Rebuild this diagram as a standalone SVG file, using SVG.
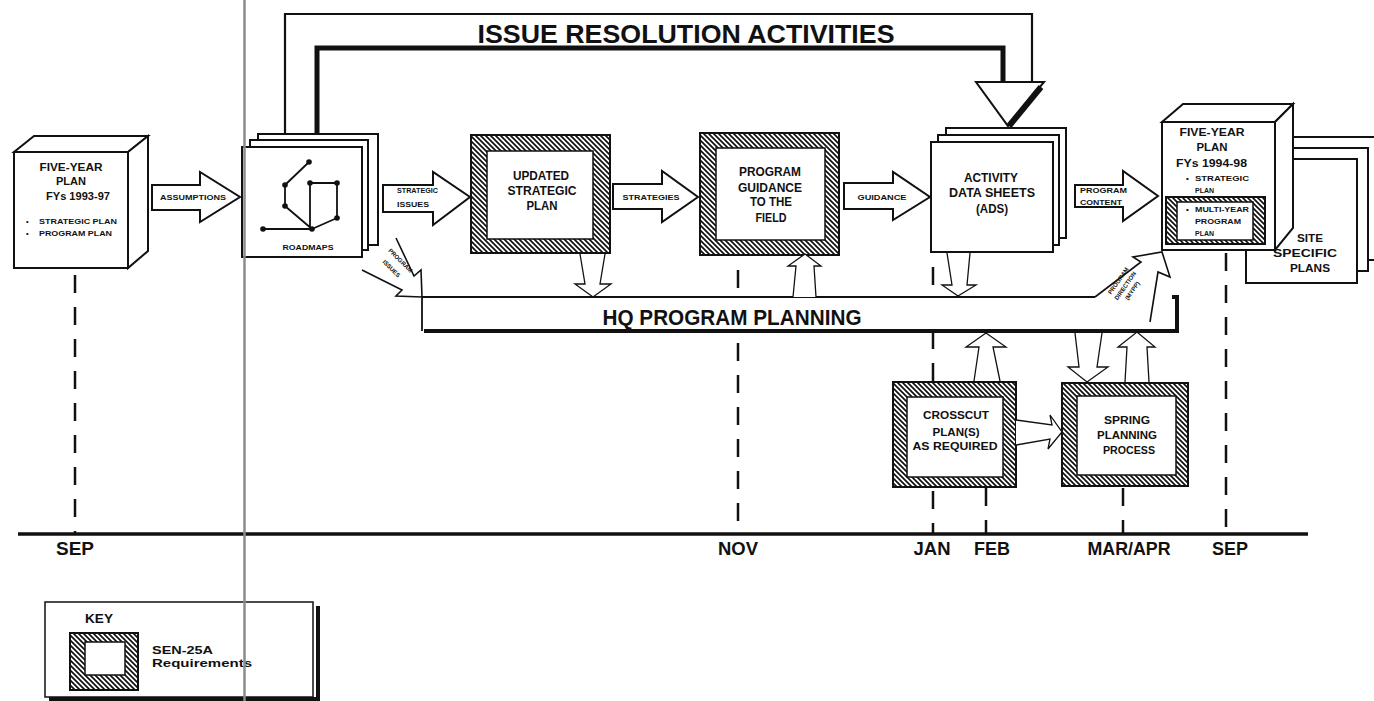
<svg xmlns="http://www.w3.org/2000/svg" width="1374" height="701" viewBox="0 0 1374 701">
<defs>
<pattern id="hatch" patternUnits="userSpaceOnUse" width="5" height="5">
<rect width="5" height="5" fill="#fff"/>
<path d="M-1,-1 L6,6 M-1,4 L1,6 M4,-1 L6,1" stroke="#111" stroke-width="1.7"/>
</pattern>
<style>
.t{font-family:"Liberation Sans",Arial,sans-serif;font-weight:bold;fill:#111}
.m{text-anchor:middle}
.box{fill:#fff;stroke:#111;stroke-width:2}
.hb{fill:url(#hatch);stroke:#111;stroke-width:2}
.in{fill:#fff;stroke:#111;stroke-width:1.5}
.arw{fill:#fff;stroke:#111;stroke-width:2;stroke-linejoin:miter}
.thin{fill:#fff;stroke:#111;stroke-width:1.3;stroke-linejoin:miter}
.ln{fill:none;stroke:#111}
.dash{fill:none;stroke:#111;stroke-width:2.5;stroke-dasharray:18 14}
</style>
</defs>
<rect width="1374" height="701" fill="#fff"/>

<!-- timeline -->
<g id="timeline">
<line class="dash" x1="75" y1="275" x2="75" y2="534"/>
<line class="dash" x1="738" y1="270" x2="738" y2="288"/>
<line class="dash" x1="738" y1="343" x2="738" y2="534"/>
<line class="dash" x1="933" y1="267" x2="933" y2="534"/>
<line class="dash" x1="986" y1="488" x2="986" y2="534"/>
<line class="dash" x1="1123" y1="488" x2="1123" y2="534"/>
<line class="dash" x1="1226" y1="253" x2="1226" y2="534"/>
<line x1="18" y1="534" x2="1308" y2="534" stroke="#111" stroke-width="3.5"/>
<text class="t m" x="75" y="555" font-size="17.5" textLength="38" lengthAdjust="spacingAndGlyphs">SEP</text>
<text class="t m" x="738" y="555" font-size="17.5" textLength="40" lengthAdjust="spacingAndGlyphs">NOV</text>
<text class="t m" x="932" y="555" font-size="17.5" textLength="37" lengthAdjust="spacingAndGlyphs">JAN</text>
<text class="t m" x="992" y="555" font-size="17.5" textLength="36" lengthAdjust="spacingAndGlyphs">FEB</text>
<text class="t m" x="1129" y="555" font-size="17.5" textLength="83" lengthAdjust="spacingAndGlyphs">MAR/APR</text>
<text class="t m" x="1230" y="555" font-size="17.5" textLength="36" lengthAdjust="spacingAndGlyphs">SEP</text>
</g>

<!-- HQ program planning bar -->
<g id="hq">
<rect x="423" y="298" width="753" height="32" fill="#fff"/>
<path class="ln" stroke-width="1.8" d="M1095,297 H422 V331"/>
<path class="ln" stroke-width="4" d="M424,331 H1179 M1177,333 V297 H1172"/>
<text class="t m" x="732" y="325" font-size="22" textLength="259" lengthAdjust="spacingAndGlyphs">HQ PROGRAM PLANNING</text>
</g>

<!-- five-year plan 1993-97 -->
<g id="fyp1">
<polygon class="box" points="14,152 34,136 148,136 128,152"/>
<polygon class="box" points="128,152 148,136 148,251 128,268"/>
<rect class="box" x="14" y="152" width="114" height="116"/>
<text class="t m" x="71" y="171" font-size="11" textLength="63" lengthAdjust="spacingAndGlyphs">FIVE-YEAR</text>
<text class="t m" x="71" y="185" font-size="11" textLength="30" lengthAdjust="spacingAndGlyphs">PLAN</text>
<text class="t m" x="78" y="200" font-size="11" textLength="64" lengthAdjust="spacingAndGlyphs">FYs 1993-97</text>
<text class="t" x="26" y="223.5" font-size="7.5">•</text>
<text class="t" x="39" y="223.5" font-size="7.5" textLength="78" lengthAdjust="spacingAndGlyphs">STRATEGIC PLAN</text>
<text class="t" x="26" y="236" font-size="7.5">•</text>
<text class="t" x="39" y="236" font-size="7.5" textLength="73" lengthAdjust="spacingAndGlyphs">PROGRAM PLAN</text>
</g>

<!-- roadmaps -->
<g id="roadmaps">
<rect class="box" x="258" y="134" width="120" height="111"/>
<rect class="box" x="250" y="140" width="118" height="110"/>
<rect class="box" x="242" y="147" width="120" height="110"/>
<g stroke="#111" stroke-width="1.8" fill="none">
<path d="M309,162 L285,185 L285,206 L312,229 M263,229 H312 M310,183 V229 M310,183 H337 V218 L312,229"/>
</g>
<g fill="#111">
<circle cx="309" cy="162" r="2.8"/><circle cx="285" cy="185" r="2.8"/><circle cx="310" cy="183" r="2.8"/>
<circle cx="337" cy="183" r="2.8"/><circle cx="285" cy="206" r="2.8"/><circle cx="337" cy="218" r="2.8"/>
<circle cx="312" cy="229" r="2.8"/><circle cx="263" cy="229" r="2.8"/>
</g>
<text class="t m" x="308" y="249.5" font-size="7.5" textLength="51" lengthAdjust="spacingAndGlyphs">ROADMAPS</text>
</g>

<!-- updated strategic plan -->
<g id="usp">
<rect class="hb" x="471" y="135" width="139" height="118"/>
<rect class="in" x="487" y="151" width="106" height="88"/>
<text class="t m" x="541" y="180" font-size="12" textLength="56" lengthAdjust="spacingAndGlyphs">UPDATED</text>
<text class="t m" x="542" y="195" font-size="12" textLength="69" lengthAdjust="spacingAndGlyphs">STRATEGIC</text>
<text class="t m" x="542" y="210" font-size="12" textLength="31" lengthAdjust="spacingAndGlyphs">PLAN</text>
</g>

<!-- program guidance -->
<g id="pgf">
<rect class="hb" x="700" y="133" width="139" height="122"/>
<rect class="in" x="716" y="148" width="109" height="92"/>
<text class="t m" x="770" y="176" font-size="12" textLength="62" lengthAdjust="spacingAndGlyphs">PROGRAM</text>
<text class="t m" x="770" y="191.5" font-size="12" textLength="64" lengthAdjust="spacingAndGlyphs">GUIDANCE</text>
<text class="t m" x="771" y="206" font-size="12" textLength="42" lengthAdjust="spacingAndGlyphs">TO THE</text>
<text class="t m" x="771" y="221.5" font-size="12" textLength="31" lengthAdjust="spacingAndGlyphs">FIELD</text>
</g>

<!-- activity data sheets -->
<g id="ads">
<rect class="box" x="946" y="128" width="120" height="110"/>
<rect class="box" x="938" y="135" width="121" height="110"/>
<rect class="box" x="931" y="142" width="122" height="110"/>
<text class="t m" x="991" y="181.5" font-size="12" textLength="54" lengthAdjust="spacingAndGlyphs">ACTIVITY</text>
<text class="t m" x="992" y="196.5" font-size="12" textLength="86" lengthAdjust="spacingAndGlyphs">DATA SHEETS</text>
<text class="t m" x="992" y="212.5" font-size="12" textLength="32" lengthAdjust="spacingAndGlyphs">(ADS)</text>
</g>

<!-- site specific plans -->
<g id="ssp">
<rect class="box" x="1268" y="137" width="112" height="123"/>
<rect class="box" x="1257" y="148" width="111" height="123"/>
<rect class="box" x="1246" y="159" width="111" height="124"/>
<text class="t m" x="1310" y="242" font-size="11" textLength="26" lengthAdjust="spacingAndGlyphs">SITE</text>
<text class="t m" x="1305" y="257" font-size="11" textLength="64" lengthAdjust="spacingAndGlyphs">SPECIFIC</text>
<text class="t m" x="1310" y="272" font-size="11" textLength="40" lengthAdjust="spacingAndGlyphs">PLANS</text>
</g>

<!-- five-year plan 1994-98 -->
<g id="fyp2">
<polygon class="box" points="1162,122 1183,104 1293,104 1275,122"/>
<polygon class="box" points="1275,122 1293,104 1293,228 1275,250"/>
<rect class="box" x="1162" y="122" width="113" height="128"/>
<text class="t m" x="1212" y="136" font-size="11.5" textLength="65" lengthAdjust="spacingAndGlyphs">FIVE-YEAR</text>
<text class="t m" x="1212" y="150.5" font-size="11.5" textLength="31" lengthAdjust="spacingAndGlyphs">PLAN</text>
<text class="t m" x="1211.5" y="167" font-size="11.5" textLength="71" lengthAdjust="spacingAndGlyphs">FYs 1994-98</text>
<text class="t" x="1186" y="180.5" font-size="8">•</text>
<text class="t" x="1195" y="180.5" font-size="8" textLength="54" lengthAdjust="spacingAndGlyphs">STRATEGIC</text>
<text class="t" x="1195" y="192.5" font-size="8" textLength="19" lengthAdjust="spacingAndGlyphs">PLAN</text>
<rect class="hb" x="1166" y="197" width="99" height="47" stroke-width="1.5"/>
<rect class="in" x="1177" y="202" width="76" height="38" stroke-width="1"/>
<text class="t" x="1186" y="212" font-size="8">•</text>
<text class="t" x="1195" y="212" font-size="8" textLength="54" lengthAdjust="spacingAndGlyphs">MULTI-YEAR</text>
<text class="t" x="1195" y="224" font-size="8" textLength="46" lengthAdjust="spacingAndGlyphs">PROGRAM</text>
<text class="t" x="1195" y="236" font-size="8" textLength="19" lengthAdjust="spacingAndGlyphs">PLAN</text>
</g>

<!-- crosscut -->
<g id="crosscut">
<rect class="hb" x="893" y="382" width="123" height="105"/>
<rect class="in" x="907" y="397" width="96" height="80"/>
<text class="t m" x="956" y="419" font-size="10.5" textLength="66" lengthAdjust="spacingAndGlyphs">CROSSCUT</text>
<text class="t m" x="956" y="436" font-size="10.5" textLength="47" lengthAdjust="spacingAndGlyphs">PLAN(S)</text>
<text class="t m" x="955" y="450" font-size="10.5" textLength="85" lengthAdjust="spacingAndGlyphs">AS REQUIRED</text>
</g>

<!-- spring planning -->
<g id="spring">
<rect class="hb" x="1062" y="383" width="126" height="103"/>
<rect class="in" x="1077" y="396" width="99" height="79"/>
<text class="t m" x="1127" y="424" font-size="10.5" textLength="46" lengthAdjust="spacingAndGlyphs">SPRING</text>
<text class="t m" x="1127" y="439" font-size="10.5" textLength="60" lengthAdjust="spacingAndGlyphs">PLANNING</text>
<text class="t m" x="1129" y="454" font-size="10.5" textLength="52" lengthAdjust="spacingAndGlyphs">PROCESS</text>
</g>

<!-- key -->
<g id="key">
<path class="ln" stroke-width="4" d="M49,699 H318 V606"/>
<rect x="45" y="602" width="268" height="95" fill="#fff" stroke="#111" stroke-width="1.5"/>
<text class="t m" x="99" y="623" font-size="12" textLength="28" lengthAdjust="spacingAndGlyphs">KEY</text>
<rect class="hb" x="70" y="633" width="68" height="57"/>
<rect class="in" x="85" y="642" width="40" height="33"/>
<text class="t" x="152" y="654" font-size="11" textLength="61" lengthAdjust="spacingAndGlyphs">SEN-25A</text>
<text class="t" x="152" y="667" font-size="11" textLength="100" lengthAdjust="spacingAndGlyphs">Requirements</text>
</g>

<!-- connectors -->
<g id="connectors">
<!-- issue resolution activities -->
<path class="ln" stroke-width="2.2" d="M285,134 V14 H1032 V82"/>
<path class="ln" stroke-width="5" d="M317,134 V48 H1003 V82"/>
<polygon class="arw" points="976,82 1044,82 1008,126"/>
<line x1="1041" y1="87" x2="1009" y2="126" stroke="#111" stroke-width="6"/>
<text class="t m" x="686" y="43" font-size="26" textLength="417" lengthAdjust="spacingAndGlyphs">ISSUE RESOLUTION ACTIVITIES</text>

<!-- block arrows -->
<path class="arw" d="M152,185 H200 V172 L240,197 L200,222 V210 H152 Z"/>
<text class="t m" x="193" y="199.5" font-size="7.5" textLength="66" lengthAdjust="spacingAndGlyphs">ASSUMPTIONS</text>
<path class="arw" d="M383,185 H433 V172 L470,197 L433,225 V212 H383 Z"/>
<text class="t" x="397" y="192.5" font-size="7" textLength="41" lengthAdjust="spacingAndGlyphs">STRATEGIC</text>
<text class="t" x="397" y="206.5" font-size="7" textLength="32" lengthAdjust="spacingAndGlyphs">ISSUES</text>
<path class="arw" d="M613,184 H662 V171 L698,197 L662,222 V209 H613 Z"/>
<text class="t m" x="651" y="199.5" font-size="7.5" textLength="57" lengthAdjust="spacingAndGlyphs">STRATEGIES</text>
<path class="arw" d="M844,183 H893 V172 L930,197 L893,220 V209 H844 Z"/>
<text class="t m" x="882" y="199.5" font-size="7.5" textLength="49" lengthAdjust="spacingAndGlyphs">GUIDANCE</text>
<path class="arw" d="M1075,185 H1123 V171 L1158,196 L1123,221 V207 H1075 Z"/>
<text class="t" x="1080" y="192.5" font-size="7" textLength="47" lengthAdjust="spacingAndGlyphs">PROGRAM</text>
<text class="t" x="1080" y="204.5" font-size="7" textLength="42" lengthAdjust="spacingAndGlyphs">CONTENT</text>

<!-- thin open arrows -->
<path class="thin" d="M580,254 L585,284 L575,284 L593,297 L611,284 L600,284 L605,254"/>
<path class="thin" d="M793,297 L796,266 L788,266 L805,254 L821,266 L814,266 L816,297"/>
<path class="thin" d="M947,253 L952,285 L942,285 L958,296 L976,285 L967,285 L970,253"/>
<path class="thin" d="M974,381 L979,347 L966,347 L986,333 L1006,347 L993,347 L1000,381"/>
<path class="thin" d="M1075,333 L1079,367 L1068,367 L1087,382 L1108,367 L1097,367 L1102,333"/>
<path class="thin" d="M1125,382 L1127,347 L1118,347 L1137,332 L1155,347 L1147,347 L1149,382"/>
<path class="thin" d="M1016,420 L1052,425 L1050,415 L1062,432 L1048,449 L1050,439 L1016,445"/>

<!-- program issues -->
<path class="ln" stroke-width="1.6" stroke-linejoin="miter" d="M396,238 L414,276 L421,270 L422,297 L396,296 L402,290 L362,270"/>
<text class="t m" transform="translate(399,262) rotate(45)" font-size="6">PROGRAM</text>
<text class="t m" transform="translate(390,270) rotate(45)" font-size="6">ISSUES</text>

<!-- program direction -->
<path class="ln" stroke-width="1.6" stroke-linejoin="miter" d="M1095,297 L1141,262 L1133,257 L1162,252 L1170,277 L1158,272 L1150,322"/>
<text class="t m" transform="translate(1120,282) rotate(-55)" font-size="6">PROGRAM</text>
<text class="t m" transform="translate(1127,287) rotate(-55)" font-size="6">DIRECTION</text>
<text class="t m" transform="translate(1134,292) rotate(-55)" font-size="6">(MYPP)</text>
</g>

<!-- page fold line -->
<line x1="244.5" y1="0" x2="244.5" y2="701" stroke="#8c8c8c" stroke-width="2.5"/>
</svg>
